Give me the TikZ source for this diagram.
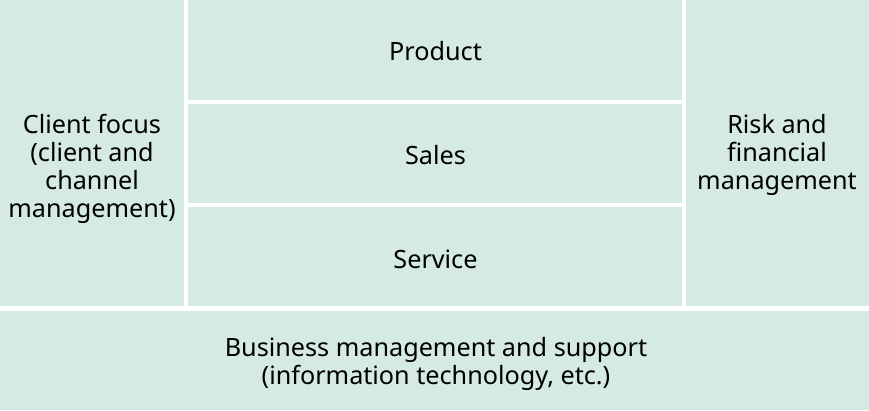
\documentclass[tikz,border=0pt]{standalone}
\usepackage{fontspec}
\setmainfont{Noto Sans}
\definecolor{boxfill}{HTML}{D4EAE3}
\begin{document}
\begin{tikzpicture}[x=1pt,y=-1pt,
  cell/.style={fill=boxfill,draw=none},
  lbl/.style={align=center,inner sep=0pt,font=\fontsize{25.2}{28}\selectfont,text=black}]
\useasboundingbox (0,0) rectangle (869,410);
\fill[white] (0,0) rectangle (869,410);
\fill[cell] (0,0) rectangle (183.5,306);
\fill[cell] (188,0) rectangle (681.5,99.5);
\fill[cell] (188,103.5) rectangle (681.5,203);
\fill[cell] (188,207) rectangle (681.5,306);
\fill[cell] (686,0) rectangle (869,306);
\fill[cell] (0,310.5) rectangle (869,410);
\node[lbl] (client) at (92,168.5) {Client focus\\(client and\\channel\\management)};
\node[lbl] (product) at (435.5,51) {Product};
\node[lbl] (sales) at (435.5,155) {Sales};
\node[lbl] (service) at (435.5,259) {Service};
\node[lbl] (risk) at (777,154.5) {Risk and\\financial\\management};
\node[lbl] (business) at (436,363.5) {Business management and support\\(information technology, etc.)};
\end{tikzpicture}
\end{document}
